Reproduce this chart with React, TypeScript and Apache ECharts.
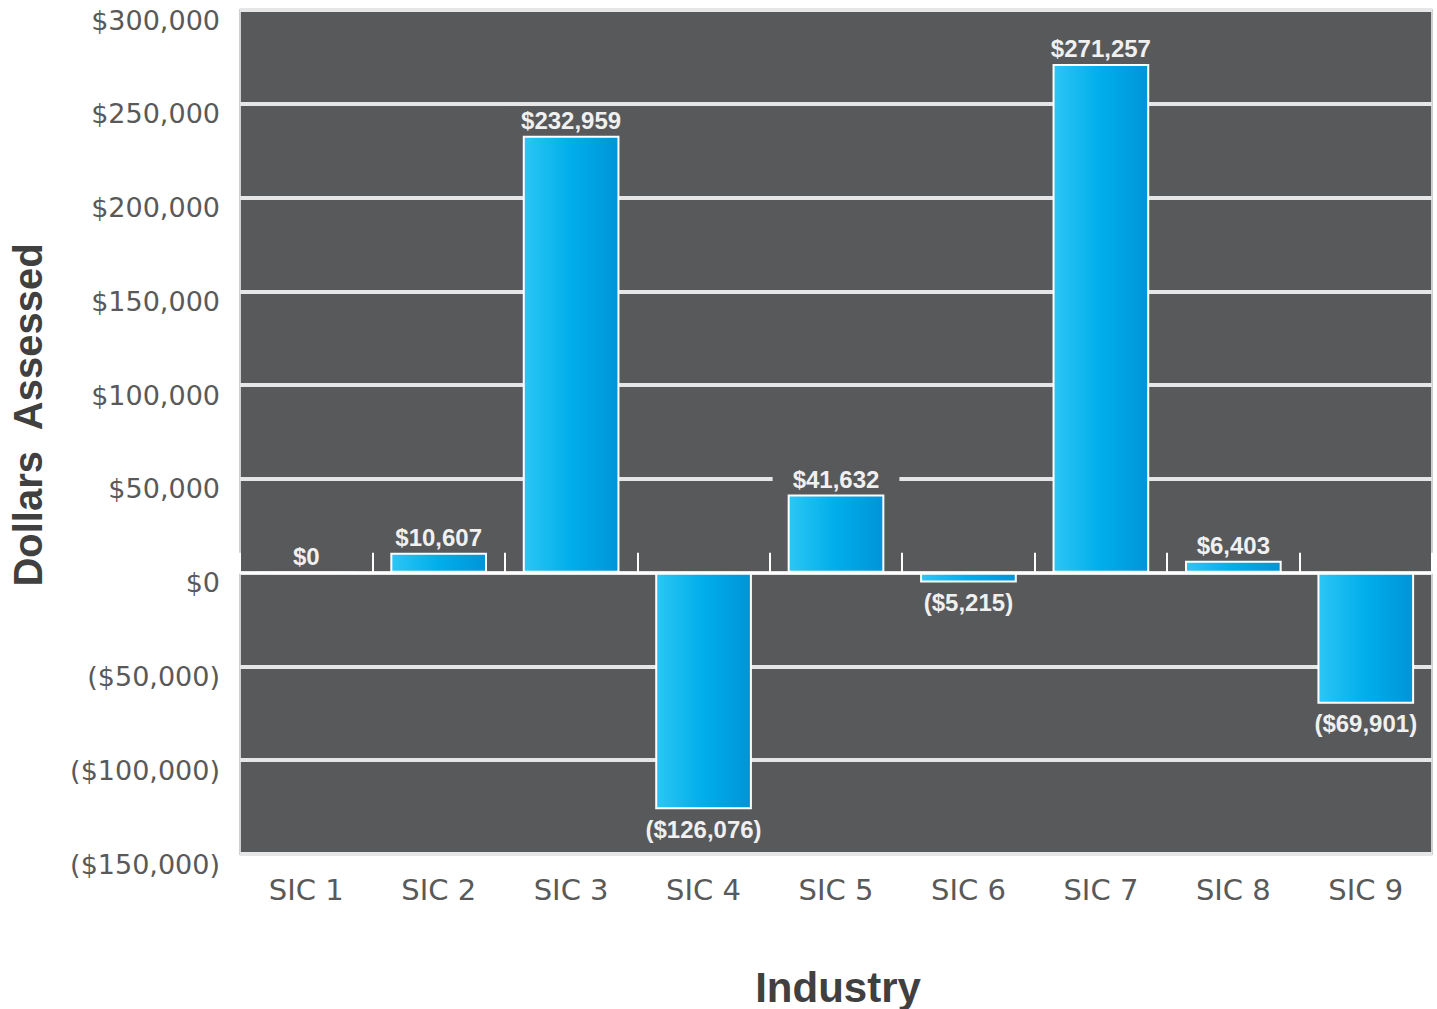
import React, { useEffect, useRef } from "react";
import * as echarts from "echarts";

const categories = ["SIC 1", "SIC 2", "SIC 3", "SIC 4", "SIC 5", "SIC 6", "SIC 7", "SIC 8", "SIC 9"];
const dollarsAssessed = [0, 10607, 232959, -126076, 41632, -5215, 271257, 6403, -69901];
const yMin = -150000;
const yMax = 300000;
const yStep = 50000;

const fmtMoney = (v: number) => {
  const s = "$" + Math.abs(v).toLocaleString("en-US");
  return v < 0 ? "(" + s + ")" : s;
};

export default function App() {
  const ref = useRef<HTMLDivElement>(null);
  useEffect(() => {
    if (!ref.current) return;
    const chart = echarts.init(ref.current, null, { renderer: "svg" });
    const plotBg = "#58595b";
    const gradient = new echarts.graphic.LinearGradient(0, 0, 1, 0, [
      { offset: 0, color: "#2cc6f5" },
      { offset: 0.5, color: "#00aeea" },
      { offset: 1, color: "#0094d8" },
    ]);
    chart.setOption({
      animation: false,
      backgroundColor: "#ffffff",
      grid: {
        left: 240,
        right: 5,
        top: 10,
        bottom: 155,
        show: true,
        backgroundColor: plotBg,
        borderColor: "#cfcfcf",
        borderWidth: 2,
      },
      xAxis: [
        {
          type: "category",
          data: categories,
          position: "bottom",
          axisLine: { show: true, onZero: true, lineStyle: { color: "#ffffff", width: 2 } },
          axisTick: { show: true, inside: true, length: 20, lineStyle: { color: "#ffffff", width: 2 } },
          axisLabel: { show: false },
          splitLine: { show: false },
          z: 3,
        },
        {
          type: "category",
          data: categories,
          position: "bottom",
          axisLine: { show: false, onZero: false },
          axisTick: { show: false },
          axisLabel: {
            show: true,
            margin: 21,
            color: "#595959",
            fontSize: 29,
            fontFamily: "DejaVu Sans",
          },
          splitLine: { show: false },
        },
      ],
      yAxis: {
        type: "value",
        min: yMin,
        max: yMax,
        interval: yStep,
        axisLine: { show: false },
        axisTick: { show: false },
        axisLabel: {
          margin: 20,
          color: "#595959",
          fontSize: 27,
          fontFamily: "DejaVu Sans",
          verticalAlign: "top",
          lineHeight: 20,
          formatter: (v: number) => fmtMoney(v),
        },
        splitLine: { show: true, lineStyle: { color: "#e6e6e6", width: 4 } },
      },
      graphic: [
        {
          type: "text",
          x: 28,
          y: 415,
          rotation: Math.PI / 2,
          style: {
            text: "Dollars  Assessed",
            fill: "#404040",
            font: "bold 40px 'Liberation Sans', Arial, sans-serif",
            textAlign: "center",
            textVerticalAlign: "middle",
          },
        },
        {
          type: "text",
          x: 838,
          y: 987,
          style: {
            text: "Industry",
            fill: "#404040",
            font: "bold 42px 'Liberation Sans', Arial, sans-serif",
            textAlign: "center",
            textVerticalAlign: "middle",
          },
        },
      ],
      series: [
        {
          type: "bar",
          xAxisIndex: 0,
          barWidth: "73%",
          data: dollarsAssessed.map((v) => ({
            value: v,
            label:
              v < 0
                ? { position: "bottom", backgroundColor: "transparent", padding: 0, distance: 8 }
                : { position: "top", backgroundColor: plotBg, padding: [0, 20], distance: 3 },
          })),
          itemStyle: { color: gradient, borderColor: "#ffffff", borderWidth: 2 },
          label: {
            show: true,
            color: "#f0f0f0",
            fontSize: 24,
            lineHeight: 24,
            fontWeight: "bold",
            fontFamily: "'Liberation Sans', Arial, sans-serif",
            formatter: (p: any) => fmtMoney(p.value),
          },
          z: 2,
        },
      ],
    });
    return () => chart.dispose();
  }, []);
  return (
    <div
      ref={ref}
      style={{ position: "fixed", left: 0, top: 0, width: 1437, height: 1009 }}
    />
  );
}
